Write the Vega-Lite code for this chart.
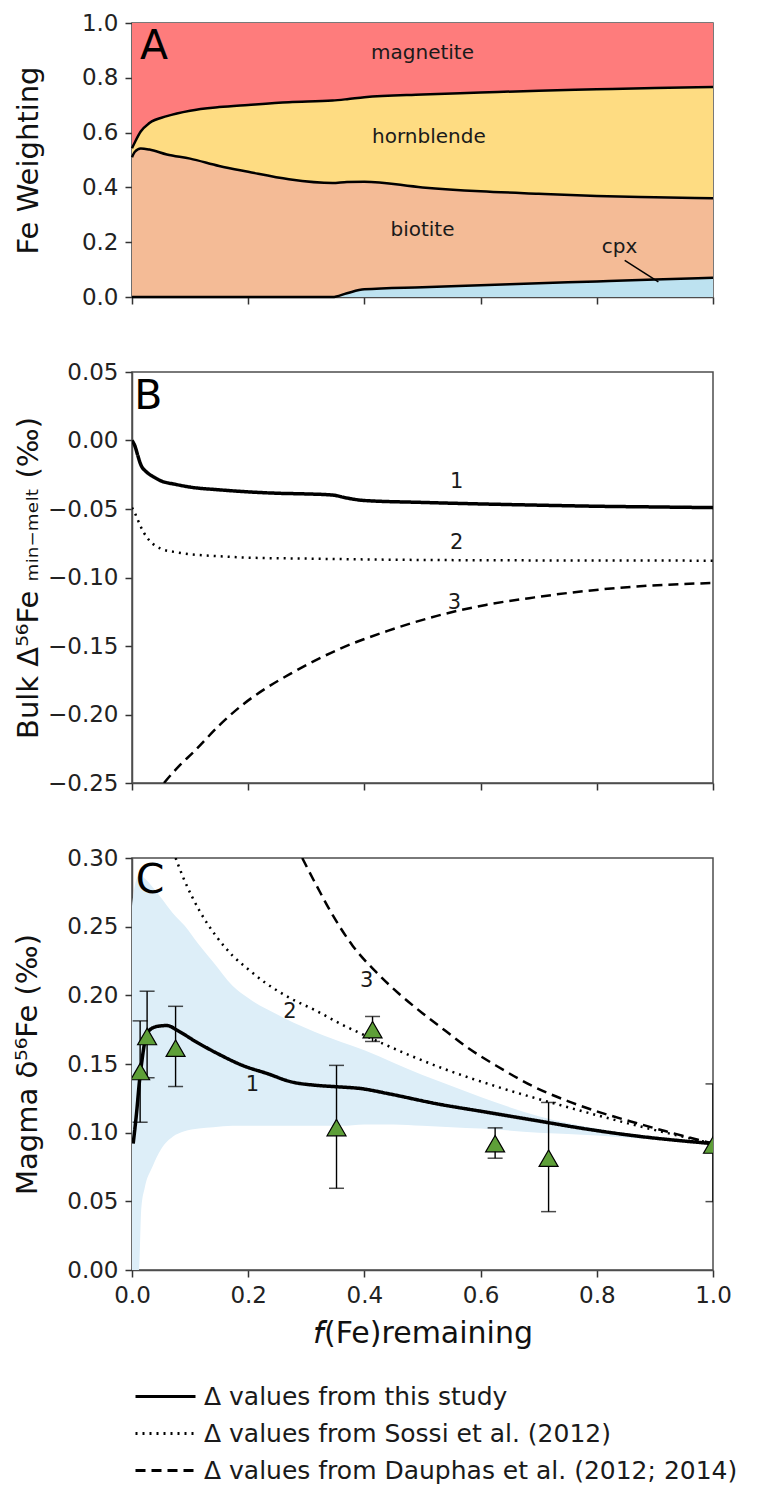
{
  "$schema": "https://vega.github.io/schema/vega-lite/v6.json",
  "padding": {"left": 13, "top": 11, "right": 10, "bottom": 0},
  "spacing": 50,
  "background": "white",
  "config": {
    "view": {"stroke": "#4d4d4d", "strokeWidth": 1.5},
    "axis": {"grid": false, "labelFont": "DejaVu Sans", "labelFontSize": 23, "labelColor": "#222222", "labelFlush": false, "titleFont": "DejaVu Sans", "titleFontSize": 29, "titleFontWeight": "normal", "titleColor": "#111111", "tickSize": 7, "tickWidth": 1.5, "tickColor": "#333333", "domainColor": "#4d4d4d", "domainWidth": 1.5, "labelPadding": 7},
    "text": {"font": "DejaVu Sans", "color": "#1a1a1a"},
    "legend": {"labelFont": "DejaVu Sans", "labelFontSize": 25, "labelColor": "#1a1a1a", "labelLimit": 0, "symbolType": "M-5,0h10", "symbolSize": 144, "symbolStrokeColor": "black", "symbolStrokeWidth": 3.2, "rowPadding": 11, "labelOffset": 26, "padding": 0}
  },
  "resolve": {"scale": {"strokeDash": "shared"}},
  "datasets": {
    "minerals": [
      {"f": 0, "mineral": "cpx", "w": 0, "ord": 1}, {"f": 0, "mineral": "biotite", "w": 0.51, "ord": 2}, {"f": 0, "mineral": "hornblende", "w": 0.033, "ord": 3}, {"f": 0, "mineral": "magnetite", "w": 0.457, "ord": 4},
      {"f": 0.005, "mineral": "cpx", "w": 0, "ord": 1}, {"f": 0.005, "mineral": "biotite", "w": 0.53, "ord": 2}, {"f": 0.005, "mineral": "hornblende", "w": 0.035, "ord": 3}, {"f": 0.005, "mineral": "magnetite", "w": 0.435, "ord": 4},
      {"f": 0.015, "mineral": "cpx", "w": 0, "ord": 1}, {"f": 0.015, "mineral": "biotite", "w": 0.542, "ord": 2}, {"f": 0.015, "mineral": "hornblende", "w": 0.062, "ord": 3}, {"f": 0.015, "mineral": "magnetite", "w": 0.396, "ord": 4},
      {"f": 0.03, "mineral": "cpx", "w": 0, "ord": 1}, {"f": 0.03, "mineral": "biotite", "w": 0.538, "ord": 2}, {"f": 0.03, "mineral": "hornblende", "w": 0.097, "ord": 3}, {"f": 0.03, "mineral": "magnetite", "w": 0.365, "ord": 4},
      {"f": 0.06, "mineral": "cpx", "w": 0, "ord": 1}, {"f": 0.06, "mineral": "biotite", "w": 0.52, "ord": 2}, {"f": 0.06, "mineral": "hornblende", "w": 0.14, "ord": 3}, {"f": 0.06, "mineral": "magnetite", "w": 0.34, "ord": 4},
      {"f": 0.1, "mineral": "cpx", "w": 0, "ord": 1}, {"f": 0.1, "mineral": "biotite", "w": 0.505, "ord": 2}, {"f": 0.1, "mineral": "hornblende", "w": 0.175, "ord": 3}, {"f": 0.1, "mineral": "magnetite", "w": 0.32, "ord": 4},
      {"f": 0.15, "mineral": "cpx", "w": 0, "ord": 1}, {"f": 0.15, "mineral": "biotite", "w": 0.478, "ord": 2}, {"f": 0.15, "mineral": "hornblende", "w": 0.215, "ord": 3}, {"f": 0.15, "mineral": "magnetite", "w": 0.307, "ord": 4},
      {"f": 0.2, "mineral": "cpx", "w": 0, "ord": 1}, {"f": 0.2, "mineral": "biotite", "w": 0.457, "ord": 2}, {"f": 0.2, "mineral": "hornblende", "w": 0.244, "ord": 3}, {"f": 0.2, "mineral": "magnetite", "w": 0.299, "ord": 4},
      {"f": 0.27, "mineral": "cpx", "w": 0, "ord": 1}, {"f": 0.27, "mineral": "biotite", "w": 0.43, "ord": 2}, {"f": 0.27, "mineral": "hornblende", "w": 0.281, "ord": 3}, {"f": 0.27, "mineral": "magnetite", "w": 0.289, "ord": 4},
      {"f": 0.345, "mineral": "cpx", "w": 0, "ord": 1}, {"f": 0.345, "mineral": "biotite", "w": 0.416, "ord": 2}, {"f": 0.345, "mineral": "hornblende", "w": 0.301, "ord": 3}, {"f": 0.345, "mineral": "magnetite", "w": 0.283, "ord": 4},
      {"f": 0.37, "mineral": "cpx", "w": 0.014, "ord": 1}, {"f": 0.37, "mineral": "biotite", "w": 0.406, "ord": 2}, {"f": 0.37, "mineral": "hornblende", "w": 0.302, "ord": 3}, {"f": 0.37, "mineral": "magnetite", "w": 0.278, "ord": 4},
      {"f": 0.4, "mineral": "cpx", "w": 0.028, "ord": 1}, {"f": 0.4, "mineral": "biotite", "w": 0.393, "ord": 2}, {"f": 0.4, "mineral": "hornblende", "w": 0.308, "ord": 3}, {"f": 0.4, "mineral": "magnetite", "w": 0.271, "ord": 4},
      {"f": 0.5, "mineral": "cpx", "w": 0.036, "ord": 1}, {"f": 0.5, "mineral": "biotite", "w": 0.364, "ord": 2}, {"f": 0.5, "mineral": "hornblende", "w": 0.339, "ord": 3}, {"f": 0.5, "mineral": "magnetite", "w": 0.261, "ord": 4},
      {"f": 0.6, "mineral": "cpx", "w": 0.043, "ord": 1}, {"f": 0.6, "mineral": "biotite", "w": 0.343, "ord": 2}, {"f": 0.6, "mineral": "hornblende", "w": 0.36, "ord": 3}, {"f": 0.6, "mineral": "magnetite", "w": 0.254, "ord": 4},
      {"f": 0.7, "mineral": "cpx", "w": 0.05, "ord": 1}, {"f": 0.7, "mineral": "biotite", "w": 0.327, "ord": 2}, {"f": 0.7, "mineral": "hornblende", "w": 0.376, "ord": 3}, {"f": 0.7, "mineral": "magnetite", "w": 0.247, "ord": 4},
      {"f": 0.8, "mineral": "cpx", "w": 0.057, "ord": 1}, {"f": 0.8, "mineral": "biotite", "w": 0.312, "ord": 2}, {"f": 0.8, "mineral": "hornblende", "w": 0.389, "ord": 3}, {"f": 0.8, "mineral": "magnetite", "w": 0.242, "ord": 4},
      {"f": 0.9, "mineral": "cpx", "w": 0.064, "ord": 1}, {"f": 0.9, "mineral": "biotite", "w": 0.3, "ord": 2}, {"f": 0.9, "mineral": "hornblende", "w": 0.399, "ord": 3}, {"f": 0.9, "mineral": "magnetite", "w": 0.237, "ord": 4},
      {"f": 1.0, "mineral": "cpx", "w": 0.07, "ord": 1}, {"f": 1.0, "mineral": "biotite", "w": 0.29, "ord": 2}, {"f": 1.0, "mineral": "hornblende", "w": 0.406, "ord": 3}, {"f": 1.0, "mineral": "magnetite", "w": 0.234, "ord": 4}
    ],
    "labA": [
      {"x": 0.50, "y": 0.89, "t": "magnetite"},
      {"x": 0.511, "y": 0.585, "t": "hornblende"},
      {"x": 0.50, "y": 0.244, "t": "biotite"},
      {"x": 0.839, "y": 0.183, "t": "cpx"}
    ],
    "bulk": [
      {"f": 0, "model": "Δ values from this study", "d": 0},
      {"f": 0.005, "model": "Δ values from this study", "d": -0.004},
      {"f": 0.01, "model": "Δ values from this study", "d": -0.011},
      {"f": 0.015, "model": "Δ values from this study", "d": -0.0175},
      {"f": 0.025, "model": "Δ values from this study", "d": -0.023},
      {"f": 0.035, "model": "Δ values from this study", "d": -0.026},
      {"f": 0.05, "model": "Δ values from this study", "d": -0.0295},
      {"f": 0.075, "model": "Δ values from this study", "d": -0.032},
      {"f": 0.1, "model": "Δ values from this study", "d": -0.034},
      {"f": 0.15, "model": "Δ values from this study", "d": -0.036},
      {"f": 0.2, "model": "Δ values from this study", "d": -0.0375},
      {"f": 0.25, "model": "Δ values from this study", "d": -0.0385},
      {"f": 0.3, "model": "Δ values from this study", "d": -0.039},
      {"f": 0.345, "model": "Δ values from this study", "d": -0.0398},
      {"f": 0.37, "model": "Δ values from this study", "d": -0.042},
      {"f": 0.4, "model": "Δ values from this study", "d": -0.0438},
      {"f": 0.5, "model": "Δ values from this study", "d": -0.0452},
      {"f": 0.6, "model": "Δ values from this study", "d": -0.0463},
      {"f": 0.7, "model": "Δ values from this study", "d": -0.0472},
      {"f": 0.8, "model": "Δ values from this study", "d": -0.048},
      {"f": 0.9, "model": "Δ values from this study", "d": -0.0485},
      {"f": 1.0, "model": "Δ values from this study", "d": -0.049},
      {"f": 0, "model": "Δ values from Sossi et al. (2012)", "d": -0.049},
      {"f": 0.005, "model": "Δ values from Sossi et al. (2012)", "d": -0.053},
      {"f": 0.01, "model": "Δ values from Sossi et al. (2012)", "d": -0.058},
      {"f": 0.02, "model": "Δ values from Sossi et al. (2012)", "d": -0.067},
      {"f": 0.03, "model": "Δ values from Sossi et al. (2012)", "d": -0.073},
      {"f": 0.05, "model": "Δ values from Sossi et al. (2012)", "d": -0.079},
      {"f": 0.075, "model": "Δ values from Sossi et al. (2012)", "d": -0.0815},
      {"f": 0.1, "model": "Δ values from Sossi et al. (2012)", "d": -0.083},
      {"f": 0.15, "model": "Δ values from Sossi et al. (2012)", "d": -0.0845},
      {"f": 0.2, "model": "Δ values from Sossi et al. (2012)", "d": -0.0855},
      {"f": 0.3, "model": "Δ values from Sossi et al. (2012)", "d": -0.0862},
      {"f": 0.4, "model": "Δ values from Sossi et al. (2012)", "d": -0.0868},
      {"f": 0.5, "model": "Δ values from Sossi et al. (2012)", "d": -0.0872},
      {"f": 0.6, "model": "Δ values from Sossi et al. (2012)", "d": -0.0874},
      {"f": 0.8, "model": "Δ values from Sossi et al. (2012)", "d": -0.0876},
      {"f": 1.0, "model": "Δ values from Sossi et al. (2012)", "d": -0.0877},
      {"f": 0.055, "model": "Δ values from Dauphas et al. (2012; 2014)", "d": -0.25},
      {"f": 0.08, "model": "Δ values from Dauphas et al. (2012; 2014)", "d": -0.238},
      {"f": 0.107, "model": "Δ values from Dauphas et al. (2012; 2014)", "d": -0.227},
      {"f": 0.15, "model": "Δ values from Dauphas et al. (2012; 2014)", "d": -0.208},
      {"f": 0.19, "model": "Δ values from Dauphas et al. (2012; 2014)", "d": -0.193},
      {"f": 0.23, "model": "Δ values from Dauphas et al. (2012; 2014)", "d": -0.181},
      {"f": 0.274, "model": "Δ values from Dauphas et al. (2012; 2014)", "d": -0.17},
      {"f": 0.358, "model": "Δ values from Dauphas et al. (2012; 2014)", "d": -0.152},
      {"f": 0.44, "model": "Δ values from Dauphas et al. (2012; 2014)", "d": -0.139},
      {"f": 0.525, "model": "Δ values from Dauphas et al. (2012; 2014)", "d": -0.128},
      {"f": 0.609, "model": "Δ values from Dauphas et al. (2012; 2014)", "d": -0.12},
      {"f": 0.693, "model": "Δ values from Dauphas et al. (2012; 2014)", "d": -0.1145},
      {"f": 0.777, "model": "Δ values from Dauphas et al. (2012; 2014)", "d": -0.11},
      {"f": 0.86, "model": "Δ values from Dauphas et al. (2012; 2014)", "d": -0.1068},
      {"f": 1.0, "model": "Δ values from Dauphas et al. (2012; 2014)", "d": -0.104}
    ],
    "labB": [
      {"x": 0.559, "y": -0.030, "t": "1"},
      {"x": 0.559, "y": -0.0748, "t": "2"},
      {"x": 0.555, "y": -0.1184, "t": "3"}
    ],
    "band": [
      {"f": 0, "lo": 0, "hi": 0.265},
      {"f": 0.005, "lo": 0, "hi": 0.28},
      {"f": 0.012, "lo": 0, "hi": 0.287},
      {"f": 0.016, "lo": 0.045, "hi": 0.287},
      {"f": 0.022, "lo": 0.06, "hi": 0.285},
      {"f": 0.035, "lo": 0.075, "hi": 0.279},
      {"f": 0.05, "lo": 0.088, "hi": 0.271},
      {"f": 0.07, "lo": 0.097, "hi": 0.26},
      {"f": 0.09, "lo": 0.101, "hi": 0.251},
      {"f": 0.115, "lo": 0.103, "hi": 0.237},
      {"f": 0.14, "lo": 0.104, "hi": 0.224},
      {"f": 0.173, "lo": 0.105, "hi": 0.207},
      {"f": 0.2, "lo": 0.105, "hi": 0.198},
      {"f": 0.25, "lo": 0.105, "hi": 0.186},
      {"f": 0.3, "lo": 0.105, "hi": 0.176},
      {"f": 0.36, "lo": 0.105, "hi": 0.166},
      {"f": 0.4, "lo": 0.106, "hi": 0.16},
      {"f": 0.45, "lo": 0.106, "hi": 0.151},
      {"f": 0.5, "lo": 0.105, "hi": 0.142},
      {"f": 0.55, "lo": 0.104, "hi": 0.134},
      {"f": 0.6, "lo": 0.103, "hi": 0.126},
      {"f": 0.7, "lo": 0.1, "hi": 0.112},
      {"f": 0.8, "lo": 0.098, "hi": 0.103},
      {"f": 0.9, "lo": 0.095, "hi": 0.097},
      {"f": 1.0, "lo": 0.092, "hi": 0.092}
    ],
    "magma": [
      {"f": 0.002, "model": "Δ values from this study", "d": 0.092},
      {"f": 0.008, "model": "Δ values from this study", "d": 0.115},
      {"f": 0.013, "model": "Δ values from this study", "d": 0.138},
      {"f": 0.017, "model": "Δ values from this study", "d": 0.152},
      {"f": 0.022, "model": "Δ values from this study", "d": 0.166},
      {"f": 0.031, "model": "Δ values from this study", "d": 0.175},
      {"f": 0.045, "model": "Δ values from this study", "d": 0.1775},
      {"f": 0.06, "model": "Δ values from this study", "d": 0.178},
      {"f": 0.08, "model": "Δ values from this study", "d": 0.174},
      {"f": 0.107, "model": "Δ values from this study", "d": 0.167},
      {"f": 0.15, "model": "Δ values from this study", "d": 0.157},
      {"f": 0.19, "model": "Δ values from this study", "d": 0.149},
      {"f": 0.233, "model": "Δ values from this study", "d": 0.143},
      {"f": 0.274, "model": "Δ values from this study", "d": 0.137},
      {"f": 0.316, "model": "Δ values from this study", "d": 0.1345},
      {"f": 0.35, "model": "Δ values from this study", "d": 0.1335},
      {"f": 0.396, "model": "Δ values from this study", "d": 0.132},
      {"f": 0.44, "model": "Δ values from this study", "d": 0.1285},
      {"f": 0.525, "model": "Δ values from this study", "d": 0.121},
      {"f": 0.609, "model": "Δ values from this study", "d": 0.115},
      {"f": 0.693, "model": "Δ values from this study", "d": 0.109},
      {"f": 0.777, "model": "Δ values from this study", "d": 0.103},
      {"f": 0.86, "model": "Δ values from this study", "d": 0.098},
      {"f": 1.0, "model": "Δ values from this study", "d": 0.092},
      {"f": 0.075, "model": "Δ values from Sossi et al. (2012)", "d": 0.3},
      {"f": 0.09, "model": "Δ values from Sossi et al. (2012)", "d": 0.284},
      {"f": 0.117, "model": "Δ values from Sossi et al. (2012)", "d": 0.261},
      {"f": 0.145, "model": "Δ values from Sossi et al. (2012)", "d": 0.243},
      {"f": 0.173, "model": "Δ values from Sossi et al. (2012)", "d": 0.229},
      {"f": 0.2, "model": "Δ values from Sossi et al. (2012)", "d": 0.219},
      {"f": 0.23, "model": "Δ values from Sossi et al. (2012)", "d": 0.209},
      {"f": 0.272, "model": "Δ values from Sossi et al. (2012)", "d": 0.198},
      {"f": 0.316, "model": "Δ values from Sossi et al. (2012)", "d": 0.189},
      {"f": 0.36, "model": "Δ values from Sossi et al. (2012)", "d": 0.179},
      {"f": 0.4, "model": "Δ values from Sossi et al. (2012)", "d": 0.171},
      {"f": 0.431, "model": "Δ values from Sossi et al. (2012)", "d": 0.165},
      {"f": 0.48, "model": "Δ values from Sossi et al. (2012)", "d": 0.156},
      {"f": 0.54, "model": "Δ values from Sossi et al. (2012)", "d": 0.146},
      {"f": 0.632, "model": "Δ values from Sossi et al. (2012)", "d": 0.133},
      {"f": 0.746, "model": "Δ values from Sossi et al. (2012)", "d": 0.119},
      {"f": 0.861, "model": "Δ values from Sossi et al. (2012)", "d": 0.106},
      {"f": 1.0, "model": "Δ values from Sossi et al. (2012)", "d": 0.092},
      {"f": 0.293, "model": "Δ values from Dauphas et al. (2012; 2014)", "d": 0.3},
      {"f": 0.32, "model": "Δ values from Dauphas et al. (2012; 2014)", "d": 0.278},
      {"f": 0.346, "model": "Δ values from Dauphas et al. (2012; 2014)", "d": 0.258},
      {"f": 0.38, "model": "Δ values from Dauphas et al. (2012; 2014)", "d": 0.236},
      {"f": 0.42, "model": "Δ values from Dauphas et al. (2012; 2014)", "d": 0.217},
      {"f": 0.46, "model": "Δ values from Dauphas et al. (2012; 2014)", "d": 0.201},
      {"f": 0.5, "model": "Δ values from Dauphas et al. (2012; 2014)", "d": 0.187},
      {"f": 0.54, "model": "Δ values from Dauphas et al. (2012; 2014)", "d": 0.174},
      {"f": 0.574, "model": "Δ values from Dauphas et al. (2012; 2014)", "d": 0.163},
      {"f": 0.63, "model": "Δ values from Dauphas et al. (2012; 2014)", "d": 0.148},
      {"f": 0.689, "model": "Δ values from Dauphas et al. (2012; 2014)", "d": 0.134},
      {"f": 0.75, "model": "Δ values from Dauphas et al. (2012; 2014)", "d": 0.123},
      {"f": 0.804, "model": "Δ values from Dauphas et al. (2012; 2014)", "d": 0.115},
      {"f": 0.86, "model": "Δ values from Dauphas et al. (2012; 2014)", "d": 0.108},
      {"f": 0.919, "model": "Δ values from Dauphas et al. (2012; 2014)", "d": 0.101},
      {"f": 1.0, "model": "Δ values from Dauphas et al. (2012; 2014)", "d": 0.092}
    ],
    "pts": [
      {"f": 0.014, "d": 0.1445, "lo": 0.1076, "hi": 0.1814},
      {"f": 0.026, "d": 0.170, "lo": 0.140, "hi": 0.203},
      {"f": 0.075, "d": 0.1615, "lo": 0.1336, "hi": 0.192},
      {"f": 0.352, "d": 0.1037, "lo": 0.0595, "hi": 0.149},
      {"f": 0.414, "d": 0.175, "lo": 0.1664, "hi": 0.1846},
      {"f": 0.625, "d": 0.092, "lo": 0.0814, "hi": 0.1035},
      {"f": 0.717, "d": 0.0814, "lo": 0.0425, "hi": 0.122},
      {"f": 1.0, "d": 0.091, "lo": 0.0498, "hi": 0.1355}
    ],
    "labC": [
      {"x": 0.2075, "y": 0.1348, "t": "1"},
      {"x": 0.272, "y": 0.1882, "t": "2"},
      {"x": 0.404, "y": 0.2101, "t": "3"}
    ]
  },
  "vconcat": [
    {
      "width": 581,
      "height": 274,
      "layer": [
        {
          "data": {"name": "minerals"},
          "transform": [{"stack": "w", "groupby": ["f"], "sort": [{"field": "ord", "order": "ascending"}], "as": ["w0", "w1"]}],
          "mark": {"type": "area", "interpolate": "monotone"},
          "encoding": {
            "x": {"field": "f", "type": "quantitative", "scale": {"domain": [0, 1], "nice": false}, "axis": {"values": [0, 0.2, 0.4, 0.6, 0.8, 1], "labels": false, "title": null}},
            "y": {"field": "w0", "type": "quantitative", "scale": {"domain": [0, 1], "nice": false}, "axis": {"values": [0, 0.2, 0.4, 0.6, 0.8, 1], "format": ".1f", "title": "Fe Weighting", "titlePadding": 38}},
            "y2": {"field": "w1"},
            "color": {"field": "mineral", "type": "nominal", "scale": {"domain": ["cpx", "biotite", "hornblende", "magnetite"], "range": ["#BDE2F0", "#F4BB96", "#FEDC82", "#FE7C7C"]}, "legend": null}
          }
        },
        {
          "data": {"name": "minerals"},
          "transform": [
            {"stack": "w", "groupby": ["f"], "sort": [{"field": "ord", "order": "ascending"}], "as": ["w0", "w1"]},
            {"filter": "datum.mineral !== 'magnetite'"}
          ],
          "mark": {"type": "line", "interpolate": "monotone", "color": "black", "strokeWidth": 2.5},
          "encoding": {
            "x": {"field": "f", "type": "quantitative"},
            "y": {"field": "w1", "type": "quantitative"},
            "detail": {"field": "mineral", "type": "nominal"}
          }
        },
        {
          "data": {"values": [{"x": 0.848, "y": 0.134, "x2": 0.906, "y2": 0.055}]},
          "mark": {"type": "rule", "color": "black", "strokeWidth": 1.5},
          "encoding": {
            "x": {"field": "x", "type": "quantitative"},
            "y": {"field": "y", "type": "quantitative"},
            "x2": {"field": "x2"},
            "y2": {"field": "y2"}
          }
        },
        {
          "data": {"name": "labA"},
          "mark": {"type": "text", "fontSize": 20, "align": "center", "baseline": "middle"},
          "encoding": {
            "x": {"field": "x", "type": "quantitative"},
            "y": {"field": "y", "type": "quantitative"},
            "text": {"field": "t"}
          }
        },
        {
          "data": {"values": [{"x": 0.038, "y": 0.912, "t": "A"}]},
          "mark": {"type": "text", "fontSize": 41, "align": "center", "baseline": "middle", "color": "black"},
          "encoding": {
            "x": {"field": "x", "type": "quantitative"},
            "y": {"field": "y", "type": "quantitative"},
            "text": {"field": "t"}
          }
        }
      ]
    },
    {
      "width": 581,
      "height": 411,
      "layer": [
        {
          "mark": {"type": "rule", "color": "#999999", "strokeWidth": 1},
          "encoding": {"y": {"datum": 0, "type": "quantitative"}}
        },
        {
          "data": {"name": "bulk"},
          "transform": [{"filter": "datum.model === 'Δ values from this study'"}],
          "mark": {"type": "line", "interpolate": "monotone", "color": "black", "strokeWidth": 3.5, "clip": true},
          "encoding": {
            "x": {"field": "f", "type": "quantitative", "scale": {"domain": [0, 1], "nice": false}, "axis": {"values": [0, 0.2, 0.4, 0.6, 0.8, 1], "labels": false, "title": null}},
            "y": {"field": "d", "type": "quantitative", "scale": {"domain": [-0.25, 0.05], "nice": false, "zero": false}, "axis": {"values": [-0.25, -0.2, -0.15, -0.1, -0.05, 0, 0.05], "format": ".2f", "title": "Bulk Δ⁵⁶Fe ₘᵢₙ₋ₘₑₗₜ (‰)", "titlePadding": 4}},
            "strokeDash": {"field": "model", "type": "nominal"}
          }
        },
        {
          "data": {"name": "bulk"},
          "transform": [{"filter": "datum.model !== 'Δ values from this study'"}],
          "mark": {"type": "line", "interpolate": "monotone", "color": "black", "strokeWidth": 2.5, "clip": true},
          "encoding": {
            "x": {"field": "f", "type": "quantitative"},
            "y": {"field": "d", "type": "quantitative"},
            "strokeDash": {"field": "model", "type": "nominal"}
          }
        },
        {
          "data": {"name": "labB"},
          "mark": {"type": "text", "fontSize": 21, "align": "center", "baseline": "middle"},
          "encoding": {
            "x": {"field": "x", "type": "quantitative"},
            "y": {"field": "y", "type": "quantitative"},
            "text": {"field": "t"}
          }
        },
        {
          "data": {"values": [{"x": 0.028, "y": 0.032, "t": "B"}]},
          "mark": {"type": "text", "fontSize": 41, "align": "center", "baseline": "middle", "color": "black"},
          "encoding": {
            "x": {"field": "x", "type": "quantitative"},
            "y": {"field": "y", "type": "quantitative"},
            "text": {"field": "t"}
          }
        }
      ]
    },
    {
      "width": 581,
      "height": 412,
      "layer": [
        {
          "data": {"name": "band"},
          "mark": {"type": "area", "interpolate": "monotone", "color": "#DDEEF8", "clip": true},
          "encoding": {
            "x": {"field": "f", "type": "quantitative", "scale": {"domain": [0, 1], "nice": false}, "axis": {"values": [0, 0.2, 0.4, 0.6, 0.8, 1], "format": ".1f", "title": "𝘧(Fe)remaining", "titleFontSize": 30, "titlePadding": 11}},
            "y": {"field": "lo", "type": "quantitative", "scale": {"domain": [0, 0.3], "nice": false}, "axis": {"values": [0, 0.05, 0.1, 0.15, 0.2, 0.25, 0.3], "format": ".2f", "title": "Magma δ⁵⁶Fe (‰)", "titlePadding": 24}},
            "y2": {"field": "hi"}
          }
        },
        {
          "data": {"name": "magma"},
          "transform": [{"filter": "datum.model === 'Δ values from this study'"}],
          "mark": {"type": "line", "interpolate": "monotone", "color": "black", "strokeWidth": 3.5, "clip": true},
          "encoding": {
            "x": {"field": "f", "type": "quantitative"},
            "y": {"field": "d", "type": "quantitative"},
            "strokeDash": {
              "field": "model", "type": "nominal",
              "scale": {"domain": ["Δ values from this study", "Δ values from Sossi et al. (2012)", "Δ values from Dauphas et al. (2012; 2014)"], "range": [[1, 0], [2, 5], [10, 6]]},
              "legend": {"orient": "none", "legendX": 21, "legendY": 1361, "title": null}
            }
          }
        },
        {
          "data": {"name": "magma"},
          "transform": [{"filter": "datum.model !== 'Δ values from this study'"}],
          "mark": {"type": "line", "interpolate": "monotone", "color": "black", "strokeWidth": 2.5, "clip": true},
          "encoding": {
            "x": {"field": "f", "type": "quantitative"},
            "y": {"field": "d", "type": "quantitative"},
            "strokeDash": {"field": "model", "type": "nominal"}
          }
        },
        {
          "data": {"name": "pts"},
          "mark": {"type": "rule", "color": "black", "strokeWidth": 1.4, "clip": true},
          "encoding": {
            "x": {"field": "f", "type": "quantitative"},
            "y": {"field": "lo", "type": "quantitative"},
            "y2": {"field": "hi"}
          }
        },
        {
          "data": {"name": "pts"},
          "mark": {"type": "tick", "orient": "horizontal", "color": "black", "size": 15, "thickness": 1.5, "clip": true},
          "encoding": {
            "x": {"field": "f", "type": "quantitative"},
            "y": {"field": "lo", "type": "quantitative"}
          }
        },
        {
          "data": {"name": "pts"},
          "mark": {"type": "tick", "orient": "horizontal", "color": "black", "size": 15, "thickness": 1.5, "clip": true},
          "encoding": {
            "x": {"field": "f", "type": "quantitative"},
            "y": {"field": "hi", "type": "quantitative"}
          }
        },
        {
          "data": {"name": "pts"},
          "mark": {"type": "point", "shape": "triangle-up", "size": 360, "filled": true, "fill": "#5E9F38", "stroke": "black", "strokeWidth": 1.2, "opacity": 1, "clip": true},
          "encoding": {
            "x": {"field": "f", "type": "quantitative"},
            "y": {"field": "d", "type": "quantitative"}
          }
        },
        {
          "data": {"name": "labC"},
          "mark": {"type": "text", "fontSize": 21, "align": "center", "baseline": "middle"},
          "encoding": {
            "x": {"field": "x", "type": "quantitative"},
            "y": {"field": "y", "type": "quantitative"},
            "text": {"field": "t"}
          }
        },
        {
          "data": {"values": [{"x": 0.031, "y": 0.283, "t": "C"}]},
          "mark": {"type": "text", "fontSize": 41, "align": "center", "baseline": "middle", "color": "black"},
          "encoding": {
            "x": {"field": "x", "type": "quantitative"},
            "y": {"field": "y", "type": "quantitative"},
            "text": {"field": "t"}
          }
        }
      ]
    }
  ]
}
